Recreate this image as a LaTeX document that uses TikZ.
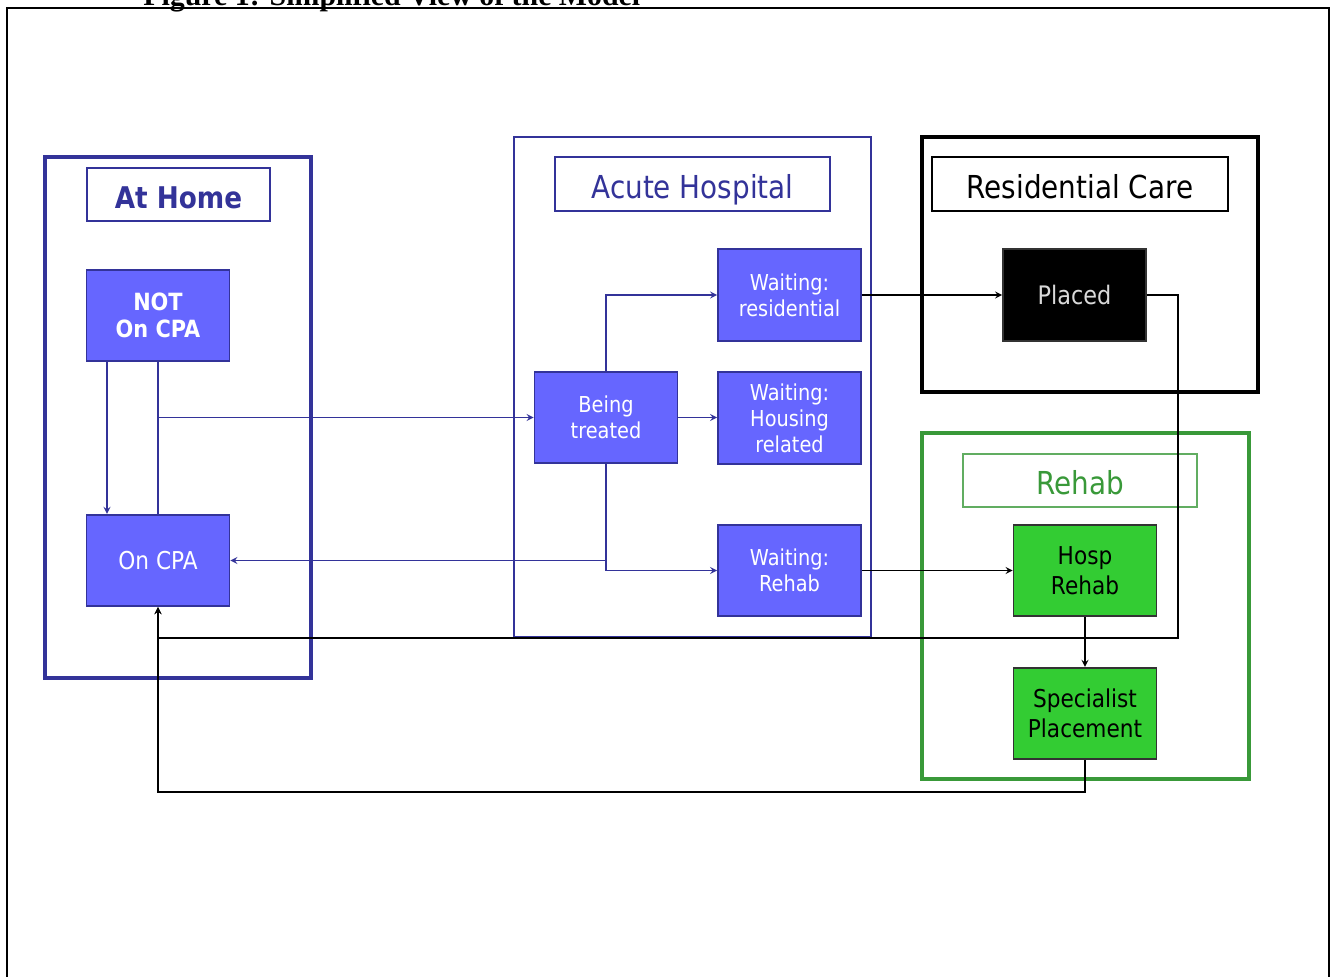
\documentclass[tikz,border=0pt]{standalone}
\usepackage{fontspec}
\setmainfont{DejaVu Sans}[FakeStretch=0.88]
\newfontfamily\capfont{Liberation Serif}
\usetikzlibrary{positioning}
\definecolor{homeblue}{RGB}{51,51,153}
\definecolor{boxblue}{RGB}{102,102,255}
\definecolor{rehabgreen}{RGB}{57,153,57}
\definecolor{boxgreen}{RGB}{51,204,51}
\tikzset{>=stealth}
\tikzset{
  state/.style={draw=homeblue, fill=boxblue, text=white, line width=0.9pt, align=center,
    minimum width=2.86cm, minimum height=1.83cm, inner sep=1pt,
    font=\fontsize{12.5}{14.8}\selectfont},
  greenstate/.style={state, draw=black!80, fill=boxgreen, text=black,
    font=\fontsize{14}{17}\selectfont},
  titlebox/.style={draw=homeblue, line width=0.9pt, text=homeblue, inner sep=0pt,
    text height=16.5pt, text depth=0pt,
    font=\fontsize{18}{21}\selectfont},
  flow/.style={draw=homeblue, line width=0.8pt},
  blackflow/.style={draw=black, line width=0.8pt},
}

\begin{document}
\begin{tikzpicture}[x=0.02cm, y=-0.02cm]
  \useasboundingbox (0,0) rectangle (1330,977);
  \clip (0,0) rectangle (1330,977);
  \fill[white] (0,0) rectangle (1330,977);
  % caption, cut at the top
  \node[anchor=base west, inner sep=0pt, font=\capfont\bfseries\fontsize{17}{20}\selectfont] (caption) at (143,6) {Figure 1: Simplified View of the Model};
  \draw[line width=1.1pt] (7,1000) -- (7,8) -- (1329,8) -- (1329,1000);

  % containers
  \draw[homeblue, line width=2.3pt] (45,157) rectangle (311,678);
  \draw[homeblue, line width=0.9pt] (514,137) rectangle (871,637);
  \draw[black, line width=2.3pt] (922,137) rectangle (1258,392);
  \draw[rehabgreen, line width=2.3pt] (922,433) rectangle (1249,779);

  % titles
  \node[titlebox, minimum width=3.66cm, minimum height=1.06cm, font=\bfseries\fontsize{17}{20}\selectfont] (hometitle) at (178.5,194.5) {At Home};
  \node[titlebox, minimum width=5.5cm, minimum height=1.08cm] (acutetitle) at (692.5,184) {Acute Hospital};
  \node[titlebox, draw=black, text=black, minimum width=5.92cm, minimum height=1.08cm] (restitle) at (1080,184) {Residential Care};
  \node[titlebox, draw=rehabgreen!80, text=rehabgreen, minimum width=4.68cm, minimum height=1.06cm] (rehabtitle) at (1080,480.5) {Rehab};

  % states
  \node[state, font=\bfseries\fontsize{13.5}{15.5}\selectfont] (notcpa) at (158,315.5) {NOT\\On CPA};
  \node[state, font=\fontsize{14}{17}\selectfont] (oncpa) at (158,560.5) {On CPA};
  \node[state] (treated) at (606,417.5) {Being\\treated};
  \node[state] (wres) at (789.5,295) {Waiting:\\residential};
  \node[state] (whous) at (789.5,418) {Waiting:\\Housing\\related};
  \node[state] (wrehab) at (789.5,570.5) {Waiting:\\Rehab};
  \node[state, draw=black!80, fill=black, text=white!85!black, font=\fontsize{14.5}{17}\selectfont] (placed) at (1074.5,295) {Placed};
  \node[greenstate] (hosp) at (1085,570.5) {Hosp\\Rehab};
  \node[greenstate] (spec) at (1085,713.5) {Specialist\\Placement};

  \coordinate (backres) at (1178,638);
  \coordinate (backspec) at (1085,792);

  % flows
  \draw[flow,->] ([xshift=-1.02cm]notcpa.south) -- ([xshift=-1.02cm]oncpa.north);
  \draw[flow] (notcpa.south) -- (oncpa.north);
  \draw[flow,->] (notcpa.south |- treated.west) -- (treated.west);
  \draw[flow,->] (treated.north) |- (wres.west);
  \draw[flow,->] (treated.east) -- (treated.east -| whous.west);
  \draw[flow,->] (treated.south) |- (wrehab.west);
  \draw[flow,->] (treated.south |- oncpa.east) -- (oncpa.east);
  \draw[blackflow,->] (wres.east) -- (placed.west);
  \draw[blackflow,->] (wrehab.east) -- (hosp.west);
  \draw[blackflow,->] (hosp) -- (spec);
  \draw[blackflow,->] (placed.east) -| (backres) -| (oncpa.south);
  \draw[blackflow,->] (spec.south) -- (backspec) -| (oncpa.south);
\end{tikzpicture}
\end{document}
